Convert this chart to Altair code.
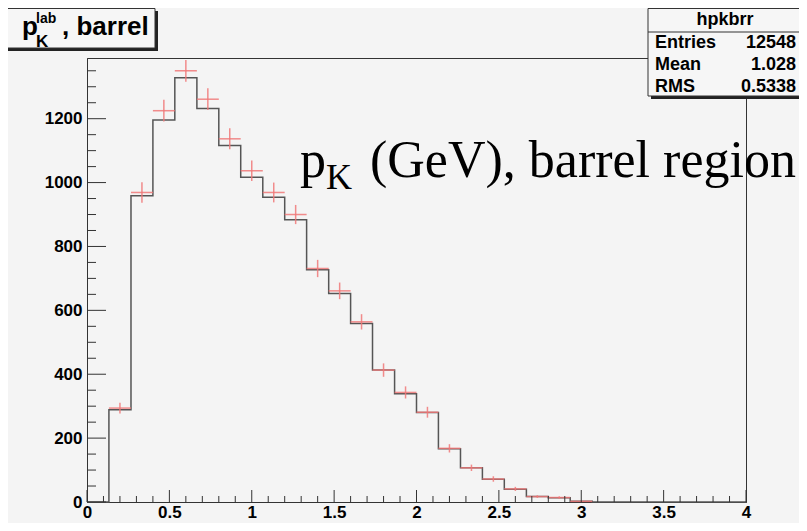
import altair as alt
import pandas as pd

# ---------------- data ----------------
edges = [0.0, 0.133, 0.267, 0.4, 0.533, 0.667, 0.8, 0.933, 1.067, 1.2,
         1.333, 1.467, 1.6, 1.733, 1.867, 2.0, 2.133, 2.267, 2.4, 2.533,
         2.667, 2.8, 2.933, 3.067, 3.2, 3.333, 3.467, 3.6, 3.733, 3.867, 4.0]
hist_counts = [0, 289, 959, 1196, 1328, 1232, 1116, 1017, 954, 884,
               727, 653, 559, 413, 339, 280, 167, 107, 71, 40,
               17, 13, 2, 0, 0, 0, 0, 0, 0, 0]
data_counts = [None, 294, 969, 1225, 1350, 1261, 1137, 1037, 969, 900,
               731, 661, 564, 413, 343, 281, 168, 107, 72, 41,
               17, 14, 2, None, None, None, None, None, None, None]
data_errors = [None, 17, 32, 34, 34, 34, 33, 32, 31, 30,
               27, 26, 24, 21, 19, 17, 13, 10, 8.5, 6.4,
               4.1, 3.7, 1.4, None, None, None, None, None, None, None]

x_major = [0, 0.5, 1, 1.5, 2, 2.5, 3, 3.5, 4]
x_minor = [0.1, 0.2, 0.3, 0.4, 0.6, 0.7, 0.8, 0.9, 1.1, 1.2, 1.3, 1.4,
           1.6, 1.7, 1.8, 1.9, 2.1, 2.2, 2.3, 2.4, 2.6, 2.7, 2.8, 2.9,
           3.1, 3.2, 3.3, 3.4, 3.6, 3.7, 3.8, 3.9]
y_major = [0, 200, 400, 600, 800, 1000, 1200]
y_minor = [50, 100, 150, 250, 300, 350, 450, 500, 550, 650, 700, 750,
           850, 900, 950, 1050, 1100, 1150, 1250, 1300, 1350]

stat_name = "hpkbrr"
stat_labels = ["Entries", "Mean", "RMS"]
stat_values = ["12548", "1.028", "0.5338"]

# ---------------- layout ----------------
W, H = 659, 444
T = 50  # top padding
SANS = "Liberation Sans"
SERIF = "Liberation Serif"
BG = "#f4f4f4"

xs = alt.Scale(domain=[0, 4], nice=False, zero=False)
ys = alt.Scale(domain=[0, 1390], nice=False)

x_axis = alt.Axis(values=x_major, format="~g", ticks=False, grid=False, title=None,
                  labelFont=SANS, labelFontWeight="bold", labelFontSize=17,
                  labelColor="#000", domainColor="#333", domainWidth=1,
                  labelPadding=2, labelFlush=False)
y_axis = alt.Axis(values=y_major, format="d", ticks=False, grid=False, title=None,
                  labelFont=SANS, labelFontWeight="bold", labelFontSize=17,
                  labelColor="#000", domainColor="#333", domainWidth=1,
                  labelPadding=5)

step_df = pd.DataFrame({"x": edges, "n": hist_counts + [0]})
hist = alt.Chart(step_df).mark_line(
    interpolate="step-after", color="#555", strokeWidth=1.5
).encode(
    x=alt.X("x:Q", scale=xs, axis=x_axis),
    y=alt.Y("n:Q", scale=ys, axis=y_axis),
)

pts = pd.DataFrame({"lo": edges[:-1], "hi": edges[1:],
                    "v": data_counts, "e": data_errors}).dropna()
base_pts = alt.Chart(pts).transform_calculate(
    c="(datum.lo + datum.hi) / 2",
    vlo="datum.v - datum.e",
    vhi="datum.v + datum.e",
)
red = "#f07878"
hbar = base_pts.mark_rule(color=red, strokeWidth=1.5, opacity=0.85).encode(
    x=alt.X("lo:Q", scale=xs, axis=x_axis), x2="hi:Q",
    y=alt.Y("v:Q", scale=ys, axis=y_axis),
)
vbar = base_pts.mark_rule(color=red, strokeWidth=1.5, opacity=0.85).encode(
    x=alt.X("c:Q", scale=xs, axis=x_axis),
    y=alt.Y("vlo:Q", scale=ys, axis=y_axis), y2="vhi:Q",
)

def yticks(vals, length):
    return alt.Chart(pd.DataFrame({"v": vals})).mark_rule(color="#333", strokeWidth=1).encode(
        y=alt.Y("v:Q", scale=ys, axis=y_axis), x=alt.value(0), x2=alt.value(length))

def xticks(vals, length):
    return alt.Chart(pd.DataFrame({"v": vals})).mark_rule(color="#333", strokeWidth=1).encode(
        x=alt.X("v:Q", scale=xs, axis=x_axis), y=alt.value(H), y2=alt.value(H - length))

one = pd.DataFrame({"a": [0]})

def rect(x, x2, y, y2, fill, stroke=None):
    kw = dict(fill=fill)
    if stroke:
        kw.update(stroke=stroke, strokeWidth=1)
    return alt.Chart(one).mark_rect(**kw).encode(
        x=alt.value(x), x2=alt.value(x2), y=alt.value(y), y2=alt.value(y2))

def text(t, x, y, size, font=SANS, weight="bold", align="left"):
    return alt.Chart(pd.DataFrame({"t": [t]})).mark_text(
        font=font, fontSize=size, fontWeight=weight, align=align,
        baseline="alphabetic", color="#000"
    ).encode(text="t:N", x=alt.value(x), y=alt.value(y))

# title box (top-left)
title_layers = [
    rect(-95, 71, -T + 3, -T + 43, "#222"),
    rect(-95, 68, -T + 0.5, -T + 40, "#f6f6f6", "#333"),
    text("p", -65, -T + 27, 26),
    text("lab", -51, -T + 15, 14),
    text("K", -51, -T + 39, 17),
    text(", barrel", -25, -T + 27, 26),
]

# stats box (top-right)
stat_layers = [
    rect(564, 730, -T + 3.5, -T + 91, "#222"),
    rect(561, 727, -T + 0.5, -T + 88, "#f6f6f6", "#333"),
    alt.Chart(one).mark_rule(color="#333", strokeWidth=1).encode(
        x=alt.value(561), x2=alt.value(727), y=alt.value(-T + 24)),
    text(stat_name, 638, -T + 17, 18, align="center"),
]
for i, (lab, val) in enumerate(zip(stat_labels, stat_values)):
    yb = -T + 40 + 22 * i
    stat_layers.append(text(lab, 568, yb, 18))
    stat_layers.append(text(val, 709, yb, 18, align="right"))

# big annotation
big_layers = [
    text("p", 213, 119, 52, font=SERIF, weight="normal"),
    text("K", 239, 131, 36, font=SERIF, weight="normal"),
    text("(GeV), barrel region", 283, 119, 52, font=SERIF, weight="normal"),
]

chart = alt.layer(
    hist, hbar, vbar,
    yticks(y_major, 19), yticks(y_minor, 9),
    xticks(x_major, 12), xticks(x_minor, 6),
    *big_layers, *title_layers, *stat_layers,
).properties(
    width=W, height=H,
    autosize=alt.AutoSizeParams(type="none"),
    padding={"left": 79, "top": T, "right": 53, "bottom": 21},
    background=BG,
).configure_view(stroke="#333", strokeWidth=1, fill=BG)

chart.save("out.html", embed_options={"renderer": "svg", "actions": False})
